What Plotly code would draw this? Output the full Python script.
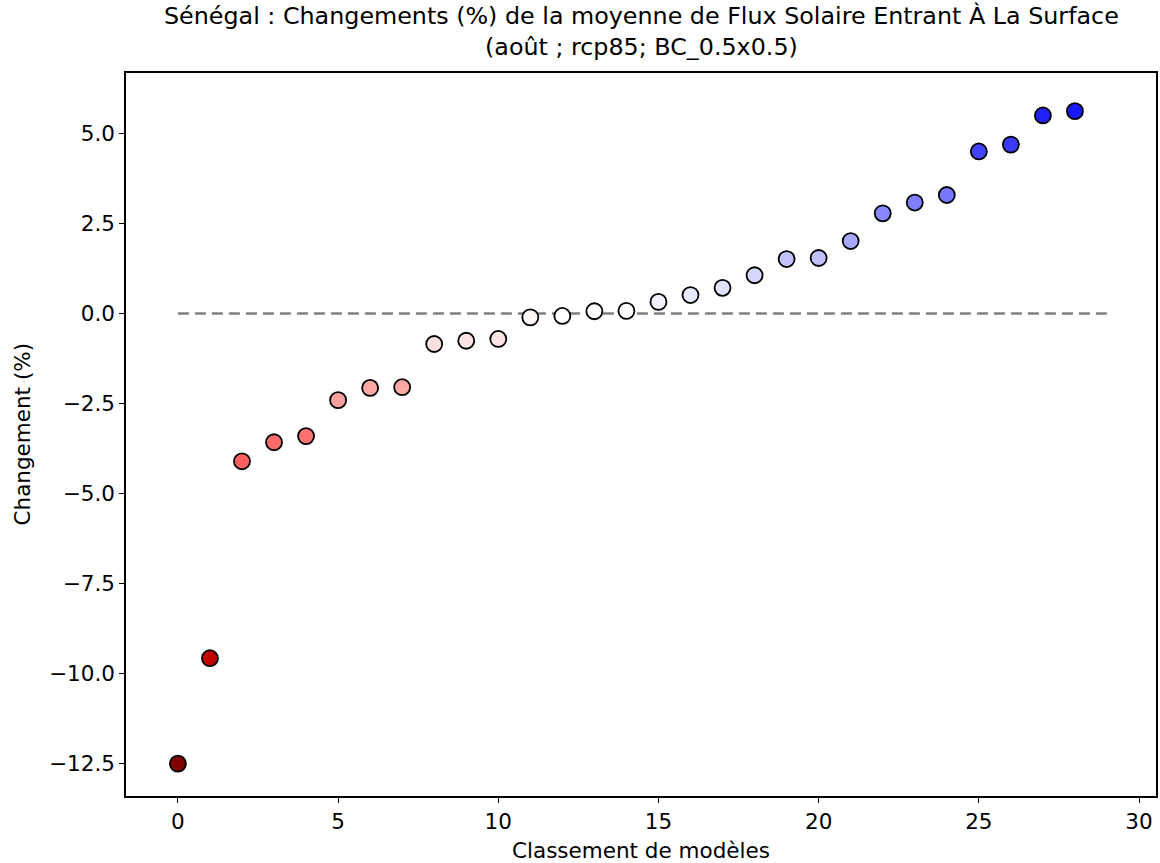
import plotly.graph_objects as go

ranks = list(range(29))
changes = [-12.51, -9.58, -4.11, -3.58, -3.41, -2.41, -2.07, -2.05, -0.85, -0.76,
           -0.71, -0.11, -0.07, 0.06, 0.07, 0.32, 0.51, 0.71, 1.06, 1.51,
           1.54, 2.01, 2.78, 3.08, 3.29, 4.50, 4.69, 5.50, 5.62]
colors = ["#800000", "#c00000", "#ff6060", "#ff6c6c", "#ff7070", "#ffa0a0", "#ffa8a8",
          "#ffa8a8", "#ffe0e0", "#ffe2e2", "#ffe4e4", "#fff6f6", "#ffffff", "#ffffff",
          "#fefeff", "#f0f0ff", "#e8e8ff", "#e2e2ff", "#d6d6ff", "#c2c2ff", "#c0c0ff",
          "#a8a8ff", "#8888ff", "#8080ff", "#7878ff", "#4444ff", "#3c3cff", "#2020ff",
          "#1818ff"]
xticks = [0, 5, 10, 15, 20, 25, 30]
yticks = [5.0, 2.5, 0.0, -2.5, -5.0, -7.5, -10.0, -12.5]

title = ("Sénégal : Changements (%) de la moyenne de Flux Solaire Entrant À La Surface"
         "<br>(août ; rcp85; BC_0.5x0.5)")
xlabel = "Classement de modèles"
ylabel = "Changement (%)"

fig = go.Figure()
fig.add_trace(go.Scatter(
    x=[0, len(changes)], y=[0, 0], mode="lines",
    line=dict(color="#808080", width=2.5, dash="11px,6px"),
    hoverinfo="skip", showlegend=False))
fig.add_trace(go.Scatter(
    x=ranks, y=changes, mode="markers",
    marker=dict(size=16, color=colors, line=dict(color="black", width=1.8)),
    showlegend=False))

font = "DejaVu Sans, Arial, sans-serif"
fig.update_layout(
    width=1160, height=863,
    margin=dict(l=126, r=2, t=73, b=67),
    paper_bgcolor="white", plot_bgcolor="white",
    font=dict(family=font, color="black", size=21.5),
    annotations=[
        dict(text=title, xref="paper", yref="paper", x=0.5, y=1, xanchor="center",
             yanchor="middle", yshift=42, showarrow=False,
             font=dict(size=23.8, family=font, color="black")),
        dict(text=xlabel, xref="paper", yref="paper", x=0.5, y=0, xanchor="center",
             yanchor="middle", yshift=-54, showarrow=False,
             font=dict(size=21.5, family=font, color="black")),
        dict(text=ylabel, xref="paper", yref="paper", x=0, y=0.5, xanchor="center",
             yanchor="middle", xshift=-104, textangle=-90, showarrow=False,
             font=dict(size=21.5, family=font, color="black")),
    ],
)
fig.update_xaxes(
    range=[-1.62, 30.53], tickvals=xticks, ticktext=[str(v) for v in xticks],
    showgrid=False, zeroline=False, showline=True, linecolor="black", linewidth=1.5,
    mirror=True, ticks="outside", ticklen=5, tickwidth=1.3, tickcolor="black",
    tickfont=dict(size=21.5))
fig.update_yaxes(
    range=[-13.41, 6.68], tickvals=yticks,
    ticktext=[f"{v:.1f}".replace("-", "−") for v in yticks],
    showgrid=False, zeroline=False, showline=True, linecolor="black", linewidth=1.5,
    mirror=True, ticks="outside", ticklen=5, tickwidth=1.3, tickcolor="black",
    tickfont=dict(size=21.5))

fig.write_html("out.html", config={"displayModeBar": False},
               post_script="document.body.style.margin='0';document.body.style.overflow='hidden';")
